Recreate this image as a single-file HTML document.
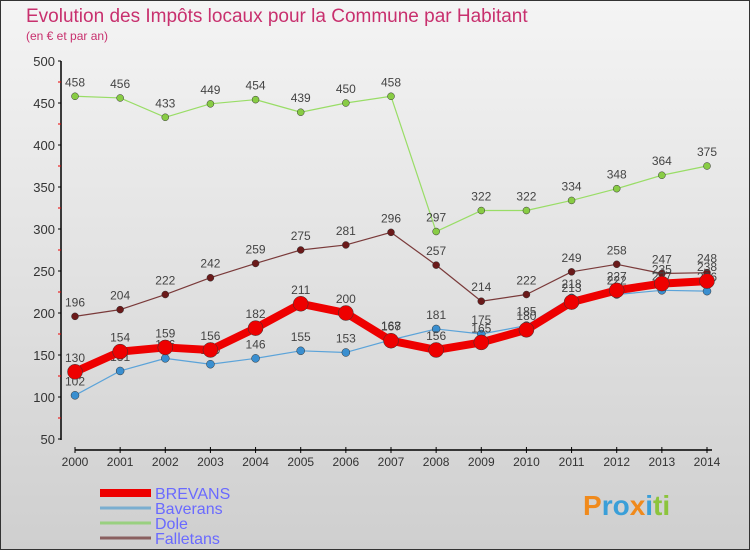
<!DOCTYPE html>
<html><head><meta charset="utf-8"><style>
body{margin:0;width:750px;height:550px;overflow:hidden;font-family:"Liberation Sans",sans-serif}
svg text{font-family:"Liberation Sans",sans-serif}
</style></head><body>
<svg id="c" width="750" height="550">
<defs><linearGradient id="bg" x1="0" y1="0" x2="0" y2="1"><stop offset="0" stop-color="#f4f4f4"/><stop offset="1" stop-color="#cfcfcf"/></linearGradient></defs>
<rect x="0.5" y="0.5" width="749" height="549" fill="url(#bg)" stroke="#333"/>
<text x="26" y="22" font-size="19" fill="#c8306e">Evolution des Impôts locaux pour la Commune par Habitant</text>
<text x="26" y="40" font-size="12" fill="#c8306e">(en € et par an)</text>
<g id="axes"></g><g id="series"></g><g id="legend"></g>
<text x="583" y="515" font-size="28" font-weight="bold"><tspan fill="#f08a1c">P</tspan><tspan fill="#3a9fd8">ro</tspan><tspan fill="#f08a1c">x</tspan><tspan fill="#3a9fd8">i</tspan><tspan fill="#8cc43c">ti</tspan></text>
</svg>
<script>
const years=[2000,2001,2002,2003,2004,2005,2006,2007,2008,2009,2010,2011,2012,2013,2014];
const yTicks=[50,100,150,200,250,300,350,400,450,500];
const brevans=[130,154,159,156,182,211,200,167,156,165,180,213,227,235,238];
const baverans=[102,131,146,139,146,155,153,168,181,175,185,218,222,227,226];
const dole=[458,456,433,449,454,439,450,458,297,322,322,334,348,364,375];
const falletans=[196,204,222,242,259,275,281,296,257,214,222,249,258,247,248];
const NS="http://www.w3.org/2000/svg";
const X=i=>75+i*(707-75)/(years.length-1);
const Y=v=>439-(v-50)*(439-61)/450;
function mk(t,a,p){const e=document.createElementNS(NS,t);for(const k in a)e.setAttribute(k,a[k]);p.appendChild(e);return e;}
const ax=document.getElementById('axes');
const ya=mk('line',{x1:61,y1:61,x2:61,y2:440,stroke:'#000','stroke-width':1.5},ax);


const xa=mk('line',{x1:75,y1:450,x2:712,y2:450,stroke:'#000','stroke-width':1.5},ax);


yTicks.forEach(v=>{
 mk('line',{x1:58,x2:61,y1:Y(v),y2:Y(v),stroke:'#000'},ax);
 if(v<500)mk('line',{x1:58,x2:61,y1:Y(v+25),y2:Y(v+25),stroke:'#e00'},ax);
 const t=mk('text',{x:55,y:Y(v)+5,'text-anchor':'end','font-size':13,fill:'#333'},ax);t.textContent=v;
 
 
});
years.forEach((yr,i)=>{
 mk('line',{x1:X(i),x2:X(i),y1:447,y2:453,stroke:'#000'},ax);
 const t=mk('text',{x:X(i),y:466,'text-anchor':'middle','font-size':12,fill:'#333'},ax);t.textContent=yr;
 
 
});
const sg=document.getElementById('series');
function series(name,data,color,w,r,dot){
 const g=mk('g',{},sg);
 
 
 const pl=mk('polyline',{points:data.map((v,i)=>X(i)+','+Y(v)).join(' '),fill:'none',stroke:color,'stroke-width':w,'stroke-linejoin':'round'},g);
 
 
 data.forEach((v,i)=>{
  const c=mk('circle',{cx:X(i),cy:Y(v),r:r,fill:dot,stroke:'#333','stroke-width':0.5},g);
  
  
  const t=mk('text',{x:X(i),y:Y(v)-10,'text-anchor':'middle','font-size':12,fill:'#444'},g);t.textContent=v;
  
  
 });
}
series('dole',dole,'#99dd66',1.2,3.5,'#88cc44');
series('falletans',falletans,'#7a3a3a',1.2,3.5,'#6b1a1a');
series('baverans',baverans,'#5ba3d9',1.2,4,'#3a8fd0');
series('brevans',brevans,'#ee0000',8,7.5,'#ee0000');
const lg=document.getElementById('legend');
[['BREVANS','#ee0000',8,493],['Baverans','#7aaed0',3,508],['Dole','#99d080',3,523],['Falletans','#8a6060',3,538]].forEach(([n,c,w,y])=>{
 const g=mk('g',{},lg);
 
 
 mk('line',{x1:100,x2:151,y1:y,y2:y,stroke:c,'stroke-width':w},g);
 const t=mk('text',{x:155,y:y+6,'font-size':16,fill:'#6a6aff'},g);t.textContent=n;
});
</script>
</body></html>
